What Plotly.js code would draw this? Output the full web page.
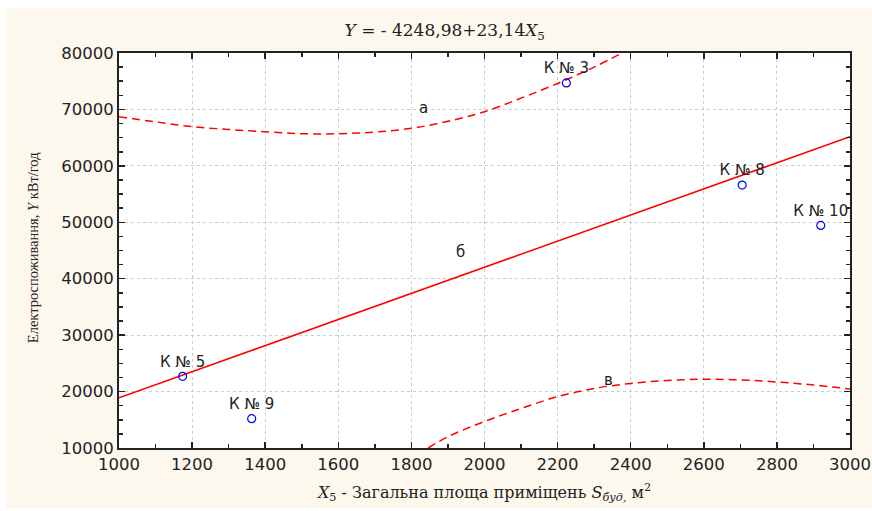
<!DOCTYPE html>
<html>
<head>
<meta charset="utf-8">
<script src="https://cdn.plot.ly/plotly-3.0.1.min.js"></script>
<style>
html,body{margin:0;padding:0;background:#fff;}
#chart{width:872px;height:511px;}
</style>
</head>
<body>
<div id="chart"></div>
<script>
// Observed points (building area X5, consumption Y)
const pointNames = ["К № 3", "К № 8", "К № 10", "К № 5", "К № 9"];
const pointX = [2224, 2705, 2920, 1174, 1363];
const pointY = [74700, 56600, 49450, 22700, 15200];

// Regression line Y = -4248.98 + 23.14 X5
const lineX = [1000, 3000];
const lineY = [18890, 65170];

// Upper dashed band "а"
const upperX = [1000, 1100, 1200, 1300, 1400, 1500, 1600, 1700, 1800, 1900, 2000, 2100, 2200, 2300, 2376];
const upperY = [68700, 67800, 66950, 66450, 66050, 65700, 65700, 66000, 66650, 67900, 69600, 72000, 74600, 77500, 80000];

// Lower dashed band "в"
const lowerX = [1846, 1900, 2000, 2100, 2200, 2300, 2400, 2500, 2600, 2700, 2800, 2900, 3000];
const lowerY = [10000, 12000, 14700, 17000, 19100, 20550, 21450, 21950, 22180, 22060, 21700, 21170, 20460];

// Curve labels
const labelText = ["а", "б", "в"];
const labelX = [1834, 1933, 2338];
const labelY = [70250, 44750, 22050];

const xTicks = [1000, 1200, 1400, 1600, 1800, 2000, 2200, 2400, 2600, 2800, 3000];
const yTicks = [10000, 20000, 30000, 40000, 50000, 60000, 70000, 80000];

const sans = "DejaVu Sans, Arial, sans-serif";
const serifWide = "DejaVu Serif, Times New Roman, serif";
const serif = "Liberation Serif, Times New Roman, serif";
const dark = "#222222";

const traces = [
  {x: upperX, y: upperY, mode: "lines", type: "scatter",
   line: {color: "#ff0000", width: 1.5, dash: "8px,5px", shape: "spline"}, hoverinfo: "skip"},
  {x: lowerX, y: lowerY, mode: "lines", type: "scatter",
   line: {color: "#ff0000", width: 1.5, dash: "8px,5px", shape: "spline"}, hoverinfo: "skip"},
  {x: lineX, y: lineY, mode: "lines", type: "scatter",
   line: {color: "#ff0000", width: 1.5}, hoverinfo: "skip"},
  {x: pointX, y: pointY, text: pointNames, mode: "markers+text", type: "scatter",
   textposition: "top center",
   textfont: {family: sans, size: 15, color: dark},
   marker: {symbol: "circle-open", size: 8, color: "#0000ff", line: {width: 1.2, color: "#0000ff"}}}
];

const annotations = labelText.map((t, i) => ({
  x: labelX[i], y: labelY[i], text: t, showarrow: false,
  xref: "x", yref: "y", font: {family: sans, size: 15, color: dark}
}));
// Y axis title as rotated annotation
annotations.push({
  xref: "paper", yref: "paper", x: -0.1176, y: 0.506,
  xanchor: "center", yanchor: "middle", textangle: -90, showarrow: false,
  text: "Електроспоживання, <i>Y</i> кВт/год",
  font: {family: serif, size: 14.5, color: dark}
});

const axisCommon = {
  showline: true, linecolor: dark, linewidth: 2, mirror: "allticks",
  ticks: "inside", ticklen: 6, tickwidth: 1.5, tickcolor: dark,
  showgrid: true, gridcolor: "#cccccc", gridwidth: 1, griddash: "dot",
  zeroline: false,
  tickfont: {family: sans, size: 16.5, color: dark}
};

const layout = {
  width: 872, height: 511,
  margin: {l: 119, r: 22, t: 53, b: 63},
  paper_bgcolor: "#fdf8ed",
  plot_bgcolor: "#ffffff",
  showlegend: false,
  title: {
    text: "<i>Y</i> = - 4248,98+23,14<i>X</i><sub>5</sub>",
    font: {family: serifWide, size: 17, color: dark},
    x: 0.51, xref: "container", xanchor: "center",
    y: 1 - 30 / 511, yref: "container", yanchor: "middle"
  },
  xaxis: Object.assign({}, axisCommon, {
    range: [1000, 3000], tickvals: xTicks, ticktext: xTicks.map(String),
    minor: {dtick: 100, ticks: "inside", ticklen: 4, tickcolor: dark, showgrid: false},
    title: {text: "<i>X</i><sub>5</sub> - Загальна площа приміщень <i>S</i><sub><i>буд,</i></sub> м<sup>2</sup>",
            font: {family: serifWide, size: 16, color: dark}, standoff: 14}
  }),
  yaxis: Object.assign({}, axisCommon, {
    range: [10000, 80000], tickvals: yTicks, ticktext: yTicks.map(String),
    minor: {dtick: 2500, ticks: "inside", ticklen: 4, tickcolor: dark, showgrid: false}
  }),
  annotations: annotations,
  shapes: [
    {type: "rect", xref: "paper", yref: "paper", x0: -0.2, x1: 1.1, y0: 1.1139, y1: 1.2, fillcolor: "#ffffff", line: {width: 0}, layer: "above"},
    {type: "rect", xref: "paper", yref: "paper", x0: -0.2, x1: -0.1546, y0: -0.2, y1: 1.2, fillcolor: "#ffffff", line: {width: 0}, layer: "above"},
    {type: "rect", xref: "paper", yref: "paper", x0: -0.2, x1: 1.1, y0: -0.2, y1: -0.1519, fillcolor: "#ffffff", line: {width: 0}, layer: "above"}
  ]
};

Plotly.newPlot("chart", traces, layout, {displayModeBar: false, staticPlot: true});
</script>
</body>
</html>
